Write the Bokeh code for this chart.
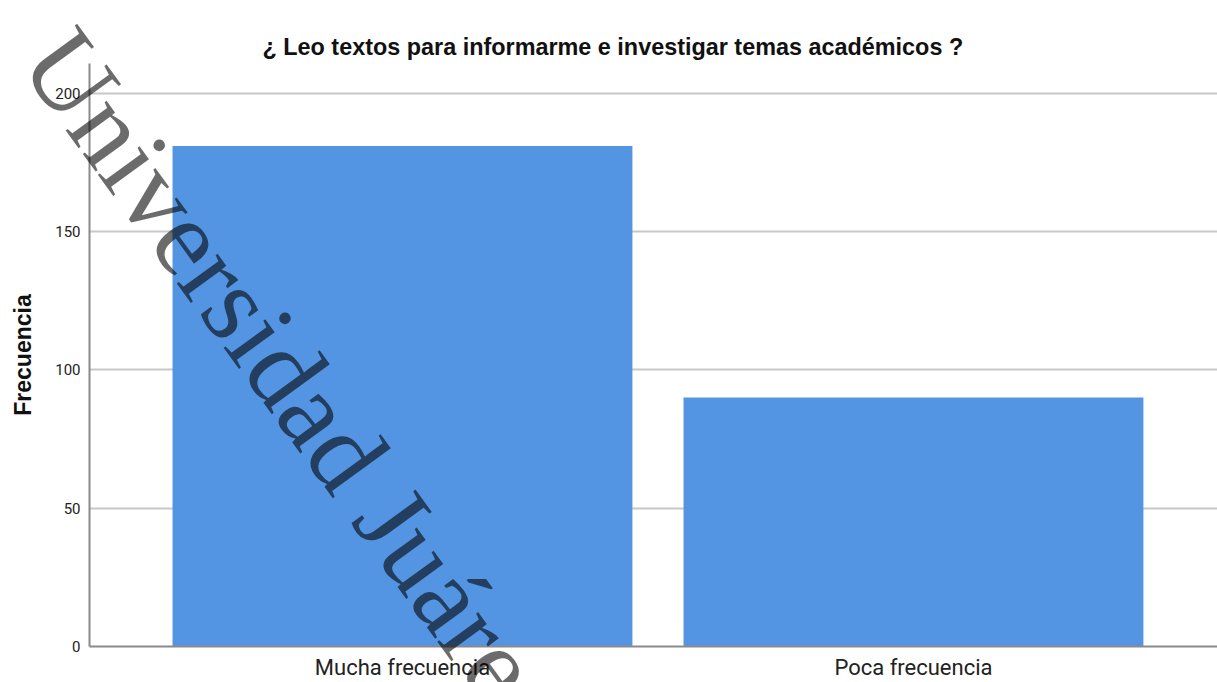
from bokeh.plotting import figure
from bokeh.models import Range1d, FixedTicker
from bokeh.embed import file_html
from bokeh.resources import INLINE

categories = ["Mucha frecuencia", "Poca frecuencia"]
counts = [181, 90]
y_ticks = [0, 50, 100, 150, 200]
title_text = "¿ Leo textos para informarme e investigar temas académicos ?"
y_label = "Frecuencia"
watermark = ["Universidad Juárez del Estado de Durango"]

positions = [i + 0.5 for i in range(len(categories))]

W, H = 1217, 682

p = figure(width=W, height=H, output_backend="svg", toolbar_location=None,
           x_range=Range1d(-0.1125, 2.095), y_range=Range1d(0, 210.8),
           min_border_left=89, min_border_right=0, min_border_top=63, min_border_bottom=34)
p.outline_line_color = None

p.title.text = title_text
p.title.align = "left"
p.title.offset = 173
p.title.standoff = 8
p.title.text_font = "Liberation Sans"
p.title.text_font_style = "bold"
p.title.text_font_size = "23.4px"
p.title.text_color = "#111111"

p.vbar(x=positions, top=counts, width=0.9, bottom=0, fill_color="#5495e3", line_color=None)

# axes
p.xaxis.ticker = FixedTicker(ticks=positions)
p.xaxis.major_label_overrides = {pos: c for pos, c in zip(positions, categories)}
p.yaxis.ticker = FixedTicker(ticks=y_ticks)
for ax in (p.xaxis[0], p.yaxis[0]):
    ax.axis_line_color = "#8a8a8a"
    ax.axis_line_width = 2
    ax.major_tick_line_color = None
    ax.minor_tick_line_color = None
    ax.major_tick_out = 0
    ax.major_tick_in = 0
    ax.major_label_text_color = "#222222"
p.xaxis.major_label_text_font = "Roboto"
p.xaxis.major_label_text_font_size = "22px"
p.xaxis.major_label_standoff = 8
p.yaxis.major_label_text_font = "Roboto"
p.yaxis.major_label_text_font_size = "15px"
p.yaxis.major_label_standoff = 9
p.yaxis.axis_label = y_label
p.yaxis.axis_label_text_font = "Liberation Sans"
p.yaxis.axis_label_text_font_style = "bold"
p.yaxis.axis_label_text_font_size = "23px"
p.yaxis.axis_label_text_color = "#111111"
p.yaxis.axis_label_standoff = 16

p.xgrid.grid_line_color = None
p.ygrid.grid_line_color = "#c8c8c8"
p.ygrid.grid_line_width = 2

# transparent overlay figure for the diagonal watermark (not clipped to the plot frame)
w = figure(width=W, height=H, output_backend="svg", toolbar_location=None,
           x_range=Range1d(0, W), y_range=Range1d(H, 0),
           x_axis_type=None, y_axis_type=None,
           min_border_left=0, min_border_right=0, min_border_top=0, min_border_bottom=0)
w.outline_line_color = None
w.background_fill_alpha = 0
w.border_fill_alpha = 0
w.grid.grid_line_color = None
w.styles = {"position": "absolute", "top": "0px", "left": "0px", "pointer-events": "none"}
w.text(x=[47], y=[42], text=watermark, angle=[-54], angle_units="deg",
       text_align="left", text_baseline="alphabetic",
       text_font="Liberation Serif", text_font_size="110px",
       text_color="black", text_alpha=0.58)

open("out.html", "w").write(file_html([p, w], INLINE))
